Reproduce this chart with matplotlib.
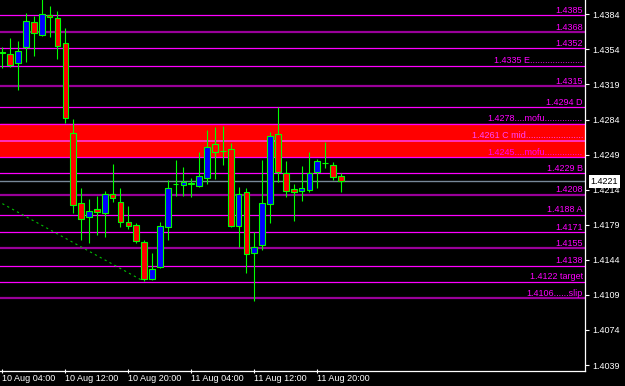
import numpy as np
import matplotlib
matplotlib.use("Agg")
import matplotlib.pyplot as plt
from matplotlib.ticker import FixedLocator, FixedFormatter

# hourly bars, 10 Aug 04:00 .. 11 Aug 23:00
opens = [1.4349, 1.4347, 1.4338, 1.4353, 1.4378, 1.4365, 1.4385, 1.4382, 1.4357, 1.4269,
         1.4200, 1.4186, 1.4194, 1.4190, 1.4209, 1.4201, 1.4181, 1.4178, 1.4161, 1.4125,
         1.4137, 1.4176, 1.4218, 1.4217, 1.4218, 1.4216, 1.4224, 1.4258, 1.4251, 1.4253,
         1.4177, 1.4210, 1.4150, 1.4158, 1.4199, 1.4268, 1.4229, 1.4213, 1.4211, 1.4212,
         1.4230, 1.4239, 1.4237, 1.4226]
highs = [1.4353, 1.4362, 1.4359, 1.4387, 1.4384, 1.4402, 1.4394, 1.4389, 1.4372, 1.4282,
         1.4214, 1.4204, 1.4207, 1.4211, 1.4238, 1.4214, 1.4197, 1.4180, 1.4163, 1.4150,
         1.4181, 1.4222, 1.4242, 1.4235, 1.4224, 1.4250, 1.4272, 1.4275, 1.4276, 1.4259,
         1.4215, 1.4214, 1.4171, 1.4242, 1.4270, 1.4294, 1.4241, 1.4218, 1.4236, 1.4250,
         1.4243, 1.4260, 1.4240, 1.4229]
lows = [1.4333, 1.4334, 1.4311, 1.4339, 1.4345, 1.4364, 1.4363, 1.4342, 1.4279, 1.4190,
        1.4163, 1.4160, 1.4168, 1.4166, 1.4201, 1.4176, 1.4174, 1.4160, 1.4123, 1.4124,
        1.4136, 1.4163, 1.4207, 1.4207, 1.4206, 1.4215, 1.4218, 1.4223, 1.4237, 1.4176,
        1.4156, 1.4131, 1.4103, 1.4153, 1.4180, 1.4220, 1.4206, 1.4182, 1.4202, 1.4210,
        1.4214, 1.4234, 1.4222, 1.4210]
closes = [1.4348, 1.4336, 1.4350, 1.4379, 1.4367, 1.4386, 1.4383, 1.4354, 1.4283, 1.4198,
          1.4184, 1.4192, 1.4191, 1.4209, 1.4205, 1.4181, 1.4177, 1.4162, 1.4125, 1.4135,
          1.4177, 1.4214, 1.4218, 1.4220, 1.4219, 1.4226, 1.4255, 1.4250, 1.4251, 1.4177,
          1.4209, 1.4149, 1.4156, 1.4200, 1.4266, 1.4230, 1.4211, 1.4210, 1.4214, 1.4229,
          1.4241, 1.4239, 1.4225, 1.4221]

levels = [1.4385, 1.4368, 1.4352, 1.4335, 1.4315, 1.4294, 1.4278, 1.4261, 1.4245,
          1.4229, 1.4208, 1.4188, 1.4171, 1.4155, 1.4138, 1.4122, 1.4106]
level_labels = ["1.4385", "1.4368", "1.4352", "1.4335 E.....................",
                "1.4315", "1.4294 D", "1.4278....mofu...............",
                "1.4261 C mid.......................", "1.4245....mofu...............",
                "1.4229 B", "1.4208", "1.4188 A", "1.4171", "1.4155", "1.4138",
                "1.4122 target", "1.4106......slip"]
dark_levels = [1.4368, 1.4315, 1.4208, 1.4155, 1.4106]
band = (1.4246, 1.4278)
current_price = 1.4221

trend_x = [0.0, 17.6]
trend_y = [1.4199, 1.4124]

xtick_bars = [0, 8, 16, 24, 32, 40]
xtick_labels = ["10 Aug 04:00", "10 Aug 12:00", "10 Aug 20:00",
                "11 Aug 04:00", "11 Aug 12:00", "11 Aug 20:00"]
ytick_labels = ["1.4384", "1.4354", "1.4319", "1.4284", "1.4249", "1.4214",
                "1.4179", "1.4144", "1.4109", "1.4074", "1.4039"]

plt.rcParams['font.family'] = ['Liberation Sans', 'DejaVu Sans']
fs = 6.5

fig = plt.figure(figsize=(6.25, 3.86), dpi=100, facecolor='black')
ax = fig.add_axes([0, 15 / 386, 585 / 625, 371 / 386])
ax.set_facecolor('black')
ax.set_xlim(-0.3, 74.0)
ax.set_ylim(1.40340, 1.43998)

o = np.array(opens)
h = np.array(highs)
l = np.array(lows)
c = np.array(closes)
x = np.arange(len(o))

# red zone and the levels
ax.axhspan(band[0], band[1], color='#FF0000', zorder=0)
for lv, lab in zip(levels, level_labels):
    if lv in dark_levels:
        ax.axhline(lv, color='#990099', lw=1.6, zorder=1)
    elif band[0] < lv < band[1]:
        ax.axhline(lv, color='#FF33CC', lw=1.3, zorder=1)
    else:
        ax.axhline(lv, color='#FF00FF', lw=0.9, zorder=1)
    tc = '#FF44FF' if band[0] <= lv - 0.0003 and lv < band[1] else '#FF00FF'
    ax.annotate(lab, xy=(1, lv), xycoords=('axes fraction', 'data'),
                xytext=(-1.5, 0.3), textcoords='offset points',
                ha='right', va='bottom', color=tc, fontsize=fs, zorder=2)

ax.axhline(current_price, color='#778899', lw=1.0, zorder=1)
ax.plot(trend_x, trend_y, color='#00C000', lw=0.8, ls=(0, (2, 3)), zorder=1)

# candles
ax.vlines(x, l, h, color='#00FF00', lw=0.8, zorder=3)
cols = np.where(c >= o, '#0000FF', '#FF0000')
ax.bar(x, c - o, bottom=o, width=0.72, color=cols, edgecolor='#00FF00',
       linewidth=0.8, zorder=4)

# axes
for s in ['top', 'left']:
    ax.spines[s].set_visible(False)
for s in ['right', 'bottom']:
    ax.spines[s].set_color('white')
    ax.spines[s].set_linewidth(0.9)

ax.yaxis.tick_right()
ax.yaxis.set_major_locator(FixedLocator(np.linspace(1.43857, 1.40399, len(ytick_labels))))
ax.yaxis.set_major_formatter(FixedFormatter(ytick_labels))
ax.xaxis.set_major_locator(FixedLocator(xtick_bars))
ax.xaxis.set_major_formatter(FixedFormatter(xtick_labels))
ax.tick_params(axis='y', colors='white', labelsize=fs, length=3, width=0.8, pad=2)
ax.tick_params(axis='x', colors='white', labelsize=fs, length=3, width=0.8,
               direction='inout', pad=1)
for t in ax.get_xticklabels():
    t.set_ha('left')

ax.annotate("1.4221", xy=(1, current_price), xycoords=('axes fraction', 'data'),
            xytext=(4, 0), textcoords='offset points', ha='left', va='center',
            color='black', fontsize=fs, zorder=10, annotation_clip=False,
            bbox=dict(boxstyle='square,pad=0.2', fc='white', ec='none'))

fig.savefig("out.png", dpi=100, facecolor='black')
